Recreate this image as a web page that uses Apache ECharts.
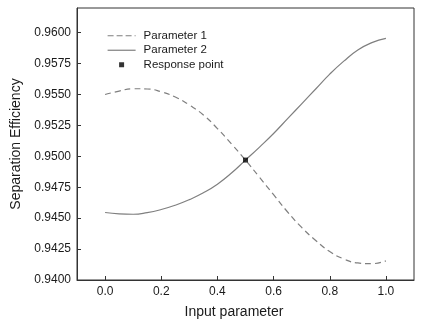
<!DOCTYPE html>
<html>
<head>
<meta charset="utf-8">
<script src="https://cdn.jsdelivr.net/npm/echarts@6/dist/echarts.min.js"></script>
<style>
  html, body { margin: 0; padding: 0; background: #fff; }
  #chart { width: 425px; height: 326px; }
</style>
</head>
<body>
<div id="chart"></div>
<script>
// Input parameter sample positions
const inputs = [0.00, 0.05, 0.10, 0.15, 0.20, 0.25, 0.30, 0.35, 0.40, 0.45, 0.50,
                0.55, 0.60, 0.65, 0.70, 0.75, 0.80, 0.85, 0.90, 0.95, 1.00];

// Separation efficiency when varying parameter 1
const param1 = [0.95500, 0.95528, 0.95547, 0.95545, 0.95522, 0.95480, 0.95415, 0.95335, 0.95225, 0.95100, 0.94970,
                0.94830, 0.94690, 0.94550, 0.94425, 0.94320, 0.94230, 0.94170, 0.94138, 0.94132, 0.94155];

// Separation efficiency when varying parameter 2
const param2 = [0.94546, 0.94535, 0.94532, 0.94545, 0.94570, 0.94605, 0.94650, 0.94705, 0.94775, 0.94865, 0.94970,
                0.95075, 0.95185, 0.95305, 0.95425, 0.95545, 0.95665, 0.95770, 0.95860, 0.95920, 0.95955];

// Response point where both curves meet
const responsePoint = [0.5, 0.9497];

// Tick positions
const xTicks = [0.0, 0.2, 0.4, 0.6, 0.8, 1.0];
const yTicks = [0.9400, 0.9425, 0.9450, 0.9475, 0.9500, 0.9525, 0.9550, 0.9575, 0.9600];

const pair = (xs, ys) => xs.map((x, i) => [x, ys[i]]);

const font = 'Liberation Sans, Arial, sans-serif';
const ink = '#1a1a1a';
const lineGray = '#7f7f7f';

const chart = echarts.init(document.getElementById('chart'), null, { renderer: 'canvas' });

chart.setOption({
  animation: false,
  backgroundColor: '#fff',
  textStyle: { fontFamily: font },
  grid: {
    left: 77, right: 11, top: 8, bottom: 46,
    show: true, borderColor: '#333', borderWidth: 1, backgroundColor: 'transparent'
  },
  legend: {
    orient: 'vertical',
    left: 107, top: 29.5,
    padding: 0,
    itemWidth: 28, itemHeight: 5,
    itemGap: 2,
    textStyle: { fontFamily: font, fontSize: 11.5, color: ink, lineHeight: 12.5, padding: [0, 0, 0, 3] },
    data: [
      { name: 'Parameter 1', itemStyle: { opacity: 0 }, lineStyle: { width: 1.2, type: [6, 3] } },
      { name: 'Parameter 2', itemStyle: { opacity: 0 }, lineStyle: { width: 1.2 } },
      { name: 'Response point', icon: 'path://M0,0L1,0L1,1L0,1Z' }
    ]
  },
  xAxis: {
    type: 'value',
    min: -0.1, max: 1.1,
    name: 'Input parameter',
    nameLocation: 'middle',
    nameGap: 25,
    nameTextStyle: { fontFamily: font, fontSize: 14, color: ink, padding: [0, 23, 0, 0] },
    axisLine: { show: true, onZero: false, lineStyle: { color: '#333', width: 1 } },
    axisTick: { show: true, inside: true, length: 4, customValues: xTicks, lineStyle: { color: '#333' } },
    axisLabel: {
      customValues: xTicks, margin: 6,
      fontFamily: font, fontSize: 12, color: ink,
      formatter: v => v.toFixed(1)
    },
    splitLine: { show: false }
  },
  yAxis: {
    type: 'value',
    min: 0.940, max: 0.962,
    name: 'Separation Efficiency',
    nameLocation: 'middle',
    nameGap: 52,
    nameTextStyle: { fontFamily: font, fontSize: 14, color: ink },
    axisLine: { show: true, onZero: false, lineStyle: { color: '#333', width: 1 } },
    axisTick: { show: true, inside: true, length: 4, customValues: yTicks, lineStyle: { color: '#333' } },
    axisLabel: {
      customValues: yTicks, margin: 6,
      fontFamily: font, fontSize: 12, color: ink,
      formatter: v => v.toFixed(4)
    },
    splitLine: { show: false }
  },
  series: [
    {
      name: 'Parameter 1',
      type: 'line',
      smooth: true,
      symbol: 'none',
      data: pair(inputs, param1),
      lineStyle: { color: lineGray, width: 1.2, type: [6, 4] },
      itemStyle: { color: lineGray },
      z: 2
    },
    {
      name: 'Parameter 2',
      type: 'line',
      smooth: true,
      symbol: 'none',
      data: pair(inputs, param2),
      lineStyle: { color: lineGray, width: 1.2 },
      itemStyle: { color: lineGray },
      z: 2
    },
    {
      name: 'Response point',
      type: 'scatter',
      symbol: 'rect',
      symbolSize: 5,
      data: [responsePoint],
      itemStyle: { color: '#000' },
      z: 5
    }
  ]
});
</script>
</body>
</html>
